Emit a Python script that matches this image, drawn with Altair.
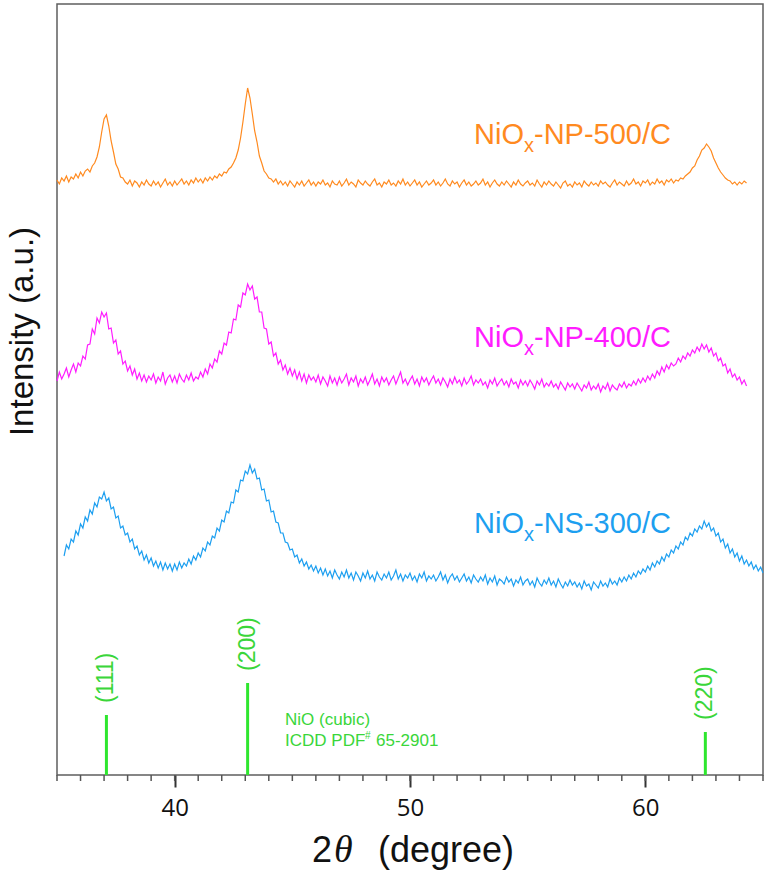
import altair as alt
import pandas as pd

# ---------------- data ----------------
angle_step = 0.1
start_np500 = 35.0
start_np400 = 35.0
start_ns300 = 35.3

np500 = [
    595, 591, 597, 594, 599, 593, 598, 596, 601, 597,
    603, 599, 604, 606, 603, 609, 612, 618, 628, 643,
    656, 660, 649, 634, 623, 611, 606, 598, 597, 593,
    591, 595, 589, 594, 592, 588, 593, 590, 595, 591,
    589, 594, 590, 593, 588, 592, 596, 590, 593, 589,
    594, 590, 593, 596, 591, 594, 590, 595, 592, 597,
    593, 596, 592, 597, 594, 598, 595, 599, 597, 601,
    599, 603, 602, 606, 608, 612, 617, 625, 637, 653,
    671, 687, 677, 661, 644, 633, 619, 612, 604, 601,
    597, 596, 593, 596, 591, 594, 590, 593, 589, 594,
    591, 588, 593, 590, 594, 589, 592, 595, 590, 593,
    589, 593, 591, 595, 590, 592, 588, 594, 591, 590,
    594, 589, 592, 596, 590, 593, 591, 588, 595, 592,
    590, 594, 591, 589, 593, 596, 590, 592, 588, 593,
    591, 595, 590, 592, 589, 594, 591, 596, 590, 593,
    589, 592, 595, 590, 593, 588, 591, 594, 590, 592,
    595, 590, 593, 589, 592, 596, 591, 589, 594, 591,
    593, 588, 592, 595, 590, 593, 589, 591, 594, 590,
    592, 596, 590, 593, 588, 592, 595, 591, 589, 593,
    590, 594, 591, 588, 593, 590, 595, 591, 589, 592,
    594, 590, 592, 589, 595, 591, 588, 593, 590, 594,
    591, 589, 593, 590, 587, 592, 594, 589, 591, 588,
    593, 590, 592, 588, 594, 591, 589, 593, 590, 592,
    589, 594, 591, 593, 590, 588, 592, 595, 590, 593,
    591, 589, 594, 590, 592, 596, 591, 593, 589, 594,
    592, 595, 590, 593, 591, 596, 592, 594, 590, 595,
    593, 596, 592, 595, 594, 597, 596, 599, 601, 603,
    607, 609, 615, 619, 625, 627, 631, 628, 624, 617,
    612, 607, 603, 600, 597, 595, 594, 591, 593, 590,
    593, 591, 594, 592,
]

np400 = [
    394, 403, 396, 401, 407, 398, 405, 411, 403, 412,
    409, 419, 416, 430, 431, 446, 441, 457, 452, 463,
    458, 462, 446, 447, 432, 435, 421, 424, 411, 414,
    404, 409, 400, 406, 396, 402, 394, 400, 393, 399,
    395, 401, 392, 398, 394, 403, 391, 397, 400, 393,
    399, 392, 401, 396, 393, 400, 395, 402, 394, 398,
    396, 403, 398, 406, 401, 411, 407, 416, 413, 424,
    421, 432, 430, 443, 442, 456, 455, 470, 468, 482,
    480, 491, 485, 489, 476, 478, 463, 463, 447, 446,
    431, 433, 419, 422, 411, 415, 405, 410, 401, 407,
    399, 405, 396, 403, 394, 401, 392, 400, 395, 398,
    393, 400, 391, 398, 394, 389, 399, 392, 397, 390,
    398, 392, 396, 401, 390, 397, 393, 399, 389, 396,
    392, 398, 390, 395, 401, 391, 396, 389, 398, 393,
    397, 390, 395, 399, 391, 397, 403, 392, 396, 390,
    395, 399, 391, 396, 389, 398, 393, 397, 390, 395,
    399, 392, 396, 390, 397, 393, 388, 396, 391, 398,
    392, 395, 389, 397, 391, 394, 399, 390, 395, 392,
    396, 390, 393, 387, 395, 391, 397, 389, 393, 396,
    390, 394, 388, 396, 391, 393, 387, 395, 390, 394,
    389, 395, 391, 386, 394, 390, 396, 388, 392, 389,
    394, 388, 391, 386, 393, 389, 385, 392, 388, 391,
    386, 392, 388, 384, 390, 387, 393, 385, 389, 386,
    391, 383, 389, 386, 392, 384, 390, 387, 385, 391,
    388, 393, 387, 391, 389, 394, 390, 396, 392, 397,
    393, 399, 395, 401, 397, 404, 400, 408, 403, 410,
    406, 412, 409, 411, 417, 413, 419, 416, 422, 419,
    425, 422, 428, 424, 431, 426, 430, 423, 427, 419,
    422, 414, 417, 409, 411, 402, 406, 398, 401, 395,
    398, 391, 395, 389,
]

ns300 = [
    219, 230, 226, 236, 233, 244, 240,
    251, 247, 258, 254, 265, 261, 272, 268, 278, 276,
    283, 274, 277, 266, 268, 257, 259, 247, 249, 240,
    242, 233, 236, 226, 229, 220, 224, 215, 220, 212,
    217, 209, 214, 207, 213, 205, 212, 206, 211, 204,
    211, 205, 213, 207, 212, 209, 216, 211, 219, 215,
    222, 218, 227, 224, 233, 230, 239, 237, 247, 244,
    255, 253, 264, 262, 273, 272, 285, 283, 295, 294,
    304, 301, 310, 302, 306, 296, 297, 285, 286, 274,
    275, 263, 264, 253, 252, 242, 242, 233, 232, 225,
    226, 218, 220, 212, 216, 209, 213, 206, 210, 204,
    209, 202, 207, 200, 206, 199, 204, 197, 205, 200,
    196, 203, 198, 205, 197, 202, 195, 203, 199, 194,
    202, 197, 204, 196, 200, 194, 203, 198, 195, 201,
    197, 203, 195, 199, 205, 196, 201, 194, 200, 197,
    202, 195, 199, 193, 201, 197, 203, 194, 199, 196,
    200, 194, 198, 203, 195, 200, 192, 198, 201, 195,
    199, 193, 197, 201, 194, 198, 192, 200, 196, 193,
    198, 194, 200, 191, 197, 193, 199, 190, 196, 194,
    191, 198, 193, 196, 189, 195, 192, 198, 190, 194,
    196, 190, 194, 188, 197, 192, 189, 195, 191, 197,
    190, 194, 188, 196, 191, 187, 193, 189, 195, 190,
    193, 188, 192, 186, 194, 189, 191, 185, 193, 190,
    187, 194, 189, 192, 188, 196, 191, 194, 190, 197,
    193, 198, 194, 200, 196, 202, 198, 204, 201, 206,
    203, 209, 205, 212, 208, 214, 211, 218, 214, 221,
    218, 225, 222, 229, 226, 233, 230, 238, 235, 242,
    239, 246, 243, 249, 246, 254, 248, 252, 244, 247,
    239, 242, 233, 236, 227, 231, 222, 226, 218, 222,
    214, 219, 211, 215, 209, 213, 206, 210, 204, 208,
    202,
]

series_names = ["NiOx-NP-500/C", "NiOx-NP-400/C", "NiOx-NS-300/C"]
series_starts = [start_np500, start_np400, start_ns300]
series_values = [np500, np400, ns300]
line_colors = ["#ff8a1f", "#ff1cff", "#1d9ff0"]
label_colors = ["#ff6e10", "#ff1cff", "#1ea3ea"]

label_prefix = ["NiO", "NiO", "NiO"]
label_sub = ["x", "x", "x"]
label_suffix = ["-NP-500/C", "-NP-400/C", "-NS-300/C"]
label_angle = [52.72, 52.72, 52.72]
label_level = [631, 428, 242]

ref_hkl = ["(111)", "(200)", "(220)"]
ref_angle = [37.1, 43.1, 62.55]
ref_intensity = [60, 92, 43]

ref_note_lines = ["NiO (cubic)", "ICDD PDF"]
ref_note_sup = "#"
ref_note_number = "65-2901"
ref_note_angle = 44.69
ref_note_levels = [50, 29]

x_major = [40, 50, 60]
x_minor = list(range(35, 66))
x_domain = [35, 65]
y_domain = [0, 771]

GREEN = "#2ee62e"
GREEN_TXT = "#3ad63a"
SANS = "Liberation Sans"

# ---------------- tables ----------------
rows = []
for name, start, vals in zip(series_names, series_starts, series_values):
    for i, v in enumerate(vals):
        rows.append({"series": name, "two_theta": round(start + i * angle_step, 2),
                     "intensity": v, "order": i})
curves = pd.DataFrame(rows)

labels = pd.DataFrame({"series": series_names, "prefix": label_prefix, "sub": label_sub,
                       "suffix": label_suffix, "two_theta": label_angle, "level": label_level})
refs = pd.DataFrame({"hkl": ref_hkl, "two_theta": ref_angle, "base": [0] * 3,
                     "top": ref_intensity})
refs["label_level"] = refs["top"] + 12
note = pd.DataFrame({"text": ref_note_lines, "two_theta": [ref_note_angle] * 2,
                     "level": ref_note_levels})
note_sup = pd.DataFrame({"text": [ref_note_sup], "two_theta": [ref_note_angle],
                         "level": [ref_note_levels[1]]})
note_num = pd.DataFrame({"text": [ref_note_number], "two_theta": [ref_note_angle],
                         "level": [ref_note_levels[1]]})
minor = pd.DataFrame({"two_theta": x_minor})

xs = alt.Scale(domain=x_domain, nice=False, zero=False)
ys = alt.Scale(domain=y_domain, nice=False, zero=False)
cs = alt.Scale(domain=series_names, range=line_colors)
lcs = alt.Scale(domain=series_names, range=label_colors)

x_axis = alt.Axis(values=x_major, title="", tickSize=12, tickWidth=2, tickColor="#333333",
                  domain=False, grid=False, labelFont="Open Sans", labelFontSize=24,
                  labelColor="#111111", labelPadding=9)
y_axis = alt.Axis(title="Intensity (a.u.)", labels=False, ticks=False, grid=False, domain=False,
                  titleFont=SANS, titleFontSize=33, titleFontWeight="normal",
                  titleColor="#111111", titleAngle=270, titleBaseline="bottom",
                  titleAlign="center", titleX=-18, titleY=327)

lines = alt.Chart(curves).mark_line(strokeWidth=1.2).encode(
    x=alt.X("two_theta:Q", scale=xs, axis=x_axis),
    y=alt.Y("intensity:Q", scale=ys, axis=y_axis),
    color=alt.Color("series:N", scale=cs, legend=None),
    order="order:Q",
)

minor_ticks = alt.Chart(minor).mark_rule(color="#555555", strokeWidth=1.5).encode(
    x=alt.X("two_theta:Q", scale=xs), y=alt.value(771), y2=alt.value(777))

lab_pre = alt.Chart(labels).mark_text(align="left", baseline="alphabetic", font=SANS,
                                      fontSize=29).encode(
    x=alt.X("two_theta:Q", scale=xs), y=alt.Y("level:Q", scale=ys), text="prefix:N",
    color=alt.Color("series:N", scale=lcs, legend=None))
lab_sub = alt.Chart(labels).mark_text(align="left", baseline="alphabetic", font=SANS,
                                      fontSize=20, dx=50, dy=8).encode(
    x=alt.X("two_theta:Q", scale=xs), y=alt.Y("level:Q", scale=ys), text="sub:N",
    color=alt.Color("series:N", scale=lcs, legend=None))
lab_suf = alt.Chart(labels).mark_text(align="left", baseline="alphabetic", font=SANS,
                                      fontSize=29, dx=60).encode(
    x=alt.X("two_theta:Q", scale=xs), y=alt.Y("level:Q", scale=ys), text="suffix:N",
    color=alt.Color("series:N", scale=lcs, legend=None))

sticks = alt.Chart(refs).mark_rule(color=GREEN, strokeWidth=3).encode(
    x=alt.X("two_theta:Q", scale=xs), y=alt.Y("base:Q", scale=ys), y2="top:Q")
stick_labels = alt.Chart(refs).mark_text(angle=270, align="left", baseline="middle",
                                         font=SANS, fontSize=23, color=GREEN_TXT).encode(
    x=alt.X("two_theta:Q", scale=xs), y=alt.Y("label_level:Q", scale=ys), text="hkl:N")

note_txt = alt.Chart(note).mark_text(align="left", baseline="alphabetic", font=SANS,
                                     fontSize=17, color=GREEN_TXT).encode(
    x=alt.X("two_theta:Q", scale=xs), y=alt.Y("level:Q", scale=ys), text="text:N")
note_sup_txt = alt.Chart(note_sup).mark_text(align="left", baseline="alphabetic", font=SANS,
                                             fontSize=10, dx=80, dy=-7,
                                             color=GREEN_TXT).encode(
    x=alt.X("two_theta:Q", scale=xs), y=alt.Y("level:Q", scale=ys), text="text:N")
note_num_txt = alt.Chart(note_num).mark_text(align="left", baseline="alphabetic", font=SANS,
                                             fontSize=17, dx=91, color=GREEN_TXT).encode(
    x=alt.X("two_theta:Q", scale=xs), y=alt.Y("level:Q", scale=ys), text="text:N")

# x-axis title pieces: "2", italic theta, "(degree)"
xt_df = pd.DataFrame({"two_theta": [50]})
xt_two = alt.Chart(xt_df).mark_text(text="2", align="left", baseline="alphabetic", font=SANS,
                                    fontSize=36, dx=-98, color="#111111").encode(
    x=alt.X("two_theta:Q", scale=xs), y=alt.value(858))
xt_theta = alt.Chart(xt_df).mark_text(text="θ", align="left", baseline="alphabetic",
                                      font="Liberation Serif", fontStyle="italic",
                                      fontSize=38, dx=-76, color="#111111").encode(
    x=alt.X("two_theta:Q", scale=xs), y=alt.value(858))
xt_rest = alt.Chart(xt_df).mark_text(text="(degree)", align="left", baseline="alphabetic",
                                     font=SANS, fontSize=36, dx=-32,
                                     color="#111111").encode(
    x=alt.X("two_theta:Q", scale=xs), y=alt.value(858))

chart = alt.layer(
    lines, minor_ticks, sticks, stick_labels, lab_pre, lab_sub, lab_suf,
    note_txt, note_sup_txt, note_num_txt, xt_two, xt_theta, xt_rest,
).properties(
    width=706, height=771,
    autosize=alt.AutoSizeParams(type="none"),
    padding={"left": 57, "top": 4, "right": 4, "bottom": 95},
).configure_view(stroke="#5f5f5f", strokeWidth=1.5)

chart.save("out.html", embed_options={"renderer": "svg", "actions": False})
